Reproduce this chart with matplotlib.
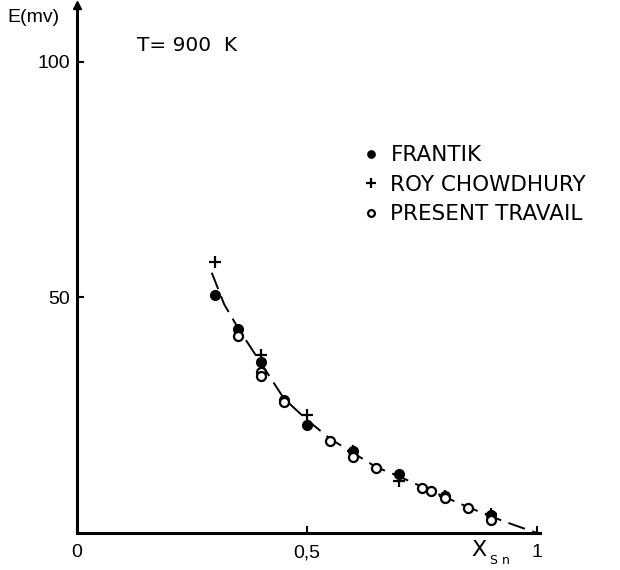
import numpy as np
import matplotlib.pyplot as plt

# E (mV) vs x_Sn at T = 900 K
frantik_x = [0.30, 0.35, 0.40, 0.45, 0.50, 0.60, 0.70, 0.80, 0.90]
frantik_e = [50.5, 43.2, 36.2, 28.2, 23.0, 17.5, 12.6, 7.8, 3.8]

roy_x = [0.30, 0.40, 0.50, 0.60, 0.70, 0.80, 0.90]
roy_e = [57.5, 37.8, 25.0, 17.4, 11.0, 7.8, 4.0]

present_x = [0.35, 0.40, 0.40, 0.45, 0.55, 0.60, 0.65, 0.75, 0.77, 0.80, 0.85, 0.90]
present_e = [41.7, 34.2, 33.2, 27.7, 19.5, 16.2, 13.8, 9.6, 9.0, 7.4, 5.4, 2.8]

# hand drawn fit curve
curve_x = [0.293, 0.32, 0.35, 0.40, 0.45, 0.50, 0.55, 0.60, 0.65, 0.70, 0.75, 0.80, 0.85, 0.90, 0.95, 1.0]
curve_e = [55.2, 48.5, 43.5, 36.0, 28.5, 24.0, 20.0, 17.0, 14.0, 12.0, 9.8, 7.6, 5.5, 3.5, 1.7, 0.0]

plt.rcParams['font.family'] = ['Liberation Sans', 'DejaVu Sans']

fig = plt.figure(figsize=(6.2, 5.7), dpi=100)
ax = fig.add_axes([77 / 620, 37 / 570, 463 / 620, 528 / 570])
ax.set_xlim(0, 1.0065)
ax.set_ylim(0, 112)

ax.plot(curve_x, curve_e, color='black', lw=1.4, dashes=(9, 4))
ax.plot(frantik_x, frantik_e, 'o', color='black', ms=7, label='FRANTIK')
ax.plot(roy_x, roy_e, '+', color='black', ms=9, mew=1.6, label='ROY CHOWDHURY')
ax.plot(present_x, present_e, 'o', mfc='white', mec='black', mew=1.6, ms=6.5,
        label='PRESENT TRAVAIL')

for s in ['top', 'right']:
    ax.spines[s].set_visible(False)
for s in ['left', 'bottom']:
    ax.spines[s].set_linewidth(2.2)

# arrow at top of the E axis
ax.plot([0], [1], '^', color='black', ms=6, transform=ax.transAxes, clip_on=False)

ax.set_xticks([0, 0.5, 1])
ax.set_xticklabels(['0', '0,5', '1'])
ax.set_yticks([50, 100])
ax.set_yticklabels(['50', '100'])
ax.tick_params(axis='both', direction='in', length=5, width=1.5, labelsize=14)
ax.tick_params(axis='x', pad=8)
ax.tick_params(axis='y', pad=5)

dv = ['DejaVu Sans']
ax.text(-0.15, 0.977, 'E(mv)', transform=ax.transAxes, fontsize=14, va='center', ha='left')
ax.text(0.13, 0.924, 'T= 900  K', transform=ax.transAxes, fontsize=14.5, va='center',
        family=dv)
ax.text(0.852, -0.033, 'X', transform=ax.transAxes, fontsize=16, va='center', family=dv)
ax.text(0.893, -0.052, 'S n', transform=ax.transAxes, fontsize=9, va='center', family=dv)

ax.legend(loc='upper left', bbox_to_anchor=(0.598, 0.755), frameon=False,
          prop={'family': dv, 'size': 15.5}, markerscale=0.75,
          handlelength=0.6, handletextpad=0.6, labelspacing=0.45, borderpad=0)

fig.savefig('out.png', dpi=100)
